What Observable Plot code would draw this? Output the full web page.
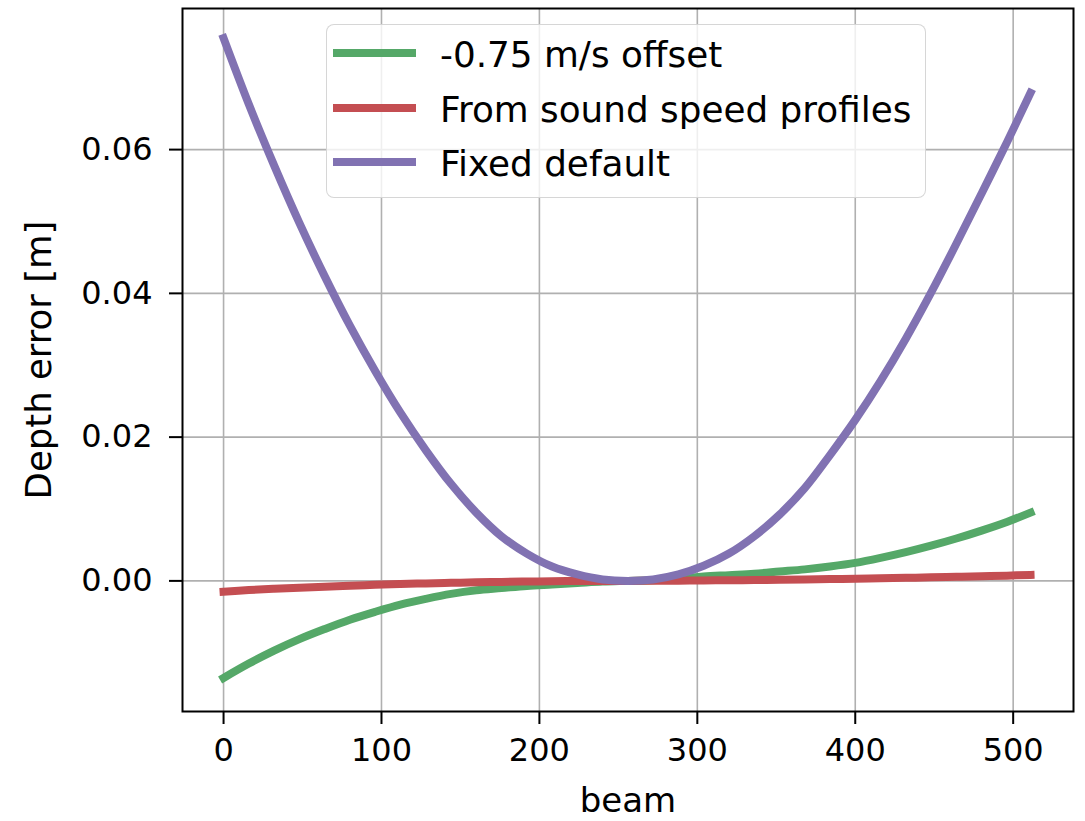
<!DOCTYPE html>
<html><head><meta charset="utf-8">
<script src="https://cdn.jsdelivr.net/npm/d3@7"></script>
<script src="https://cdn.jsdelivr.net/npm/@observablehq/plot@0.6"></script>
<style>
html,body{margin:0;padding:0;background:#fff;}
#wrap{position:relative;width:1085px;height:821px;font-family:"DejaVu Sans",sans-serif;}
.legend{position:absolute;left:326px;top:24px;width:600px;height:174px;box-sizing:border-box;border:1.5px solid rgba(204,204,204,0.8);border-radius:8px;background:rgba(255,255,255,0.8);}
.row{position:absolute;left:6px;height:50px;display:flex;align-items:center;}
.sw{width:83px;height:8px;}
.lab{margin-left:24px;font-size:35.8px;color:#000;white-space:nowrap;line-height:50px;position:relative;top:2px;}
</style></head>
<body><div id="wrap"></div>
<script>
const beams = [0,16,32,48,64,80,96,112,128,144,160,176,192,208,224,240,256,272,288,304,320,336,352,368,384,400,416,432,448,464,480,496,511];
const offsetError = [-0.0135,-0.0115,-0.0097,-0.0081,-0.0067,-0.0054,-0.0043,-0.0033,-0.0025,-0.0018,-0.0013,-0.0010,-0.0007,-0.0005,-0.0003,-0.0001,0,0.0001,0.0003,0.0006,0.0008,0.0010,0.0013,0.0016,0.0020,0.0025,0.0032,0.0040,0.0049,0.0059,0.0070,0.0082,0.0095];
const profileError = [-0.00150,-0.00128,-0.00110,-0.00094,-0.00080,-0.00067,-0.00055,-0.00044,-0.00035,-0.00027,-0.00020,-0.00014,-0.00009,-0.00005,-0.00002,-0.00001,0,0.00001,0.00003,0.00006,0.00009,0.00012,0.00016,0.00020,0.00025,0.00030,0.00036,0.00042,0.00049,0.00056,0.00064,0.00073,0.00083];
const fixedError = [0.0755,0.0663,0.0578,0.0498,0.0424,0.0355,0.0292,0.0234,0.0182,0.0135,0.0095,0.0062,0.0038,0.0020,0.0009,0.0002,0,0.0002,0.0009,0.0021,0.0038,0.0062,0.0092,0.0129,0.0175,0.0224,0.0278,0.0337,0.0401,0.0469,0.0539,0.0610,0.0679];
const seriesNames = ["-0.75 m/s offset","From sound speed profiles","Fixed default"];
const seriesColors = ["#55a868","#c44e52","#8172b2"];
const xTicks = [0,100,200,300,400,500];
const yTicks = [0,0.02,0.04,0.06];
const xLabel = "beam";
const yLabel = "Depth error [m]";

const seriesValues = [offsetError, profileError, fixedError];
const rows = [];
seriesNames.forEach((name, s) => beams.forEach((b, i) => rows.push({beam: b, value: seriesValues[s][i], series: name})));

const chart = Plot.plot({
  width: 1085, height: 821,
  marginLeft: 182, marginRight: 12, marginTop: 8, marginBottom: 110,
  style: {fontFamily: "DejaVu Sans", fontSize: "32px", color: "#000", background: "#fff"},
  x: {domain: [-26, 538.2]},
  y: {domain: [-0.01817, 0.07963]},
  color: {domain: seriesNames, range: seriesColors},
  marks: [
    Plot.gridX(xTicks, {stroke: "#b0b0b0", strokeOpacity: 1, strokeWidth: 1.6}),
    Plot.gridY(yTicks, {stroke: "#b0b0b0", strokeOpacity: 1, strokeWidth: 1.6}),
    Plot.line(rows, {x: "beam", y: "value", z: "series", stroke: "series", strokeWidth: 8, curve: "catmull-rom", strokeLinecap: "square"}),
    Plot.frame({stroke: "#000", strokeWidth: 2}),
    Plot.axisX(xTicks, {tickSize: 13, tickPadding: 14, strokeWidth: 2, fontSize: 32, label: null}),
    Plot.axisY(yTicks, {tickSize: 13, tickPadding: 17, strokeWidth: 2, fontSize: 32, tickFormat: d3.format(".2f"), label: null}),
    Plot.text([xLabel], {text: d => d, frameAnchor: "bottom", textAnchor: "middle", dy: 90, lineAnchor: "middle", fontSize: 34, fill: "#000"}),
    Plot.text([yLabel], {text: d => d, frameAnchor: "left", textAnchor: "middle", dx: -143, rotate: -90, lineAnchor: "middle", fontSize: 35.5, fill: "#000"})
  ]
});

const wrap = document.getElementById("wrap");
wrap.appendChild(chart);

const legend = document.createElement("div");
legend.className = "legend";
const rowCenters = [29.3, 84.3, 138.7];
seriesNames.forEach((name, i) => {
  const r = document.createElement("div");
  r.className = "row";
  r.style.top = (rowCenters[i] - 25 - 1.5) + "px";
  const sw = document.createElement("div");
  sw.className = "sw";
  sw.style.background = seriesColors[i];
  const lab = document.createElement("div");
  lab.className = "lab";
  lab.textContent = name;
  r.appendChild(sw);
  r.appendChild(lab);
  legend.appendChild(r);
});
wrap.appendChild(legend);
</script>
</body></html>
